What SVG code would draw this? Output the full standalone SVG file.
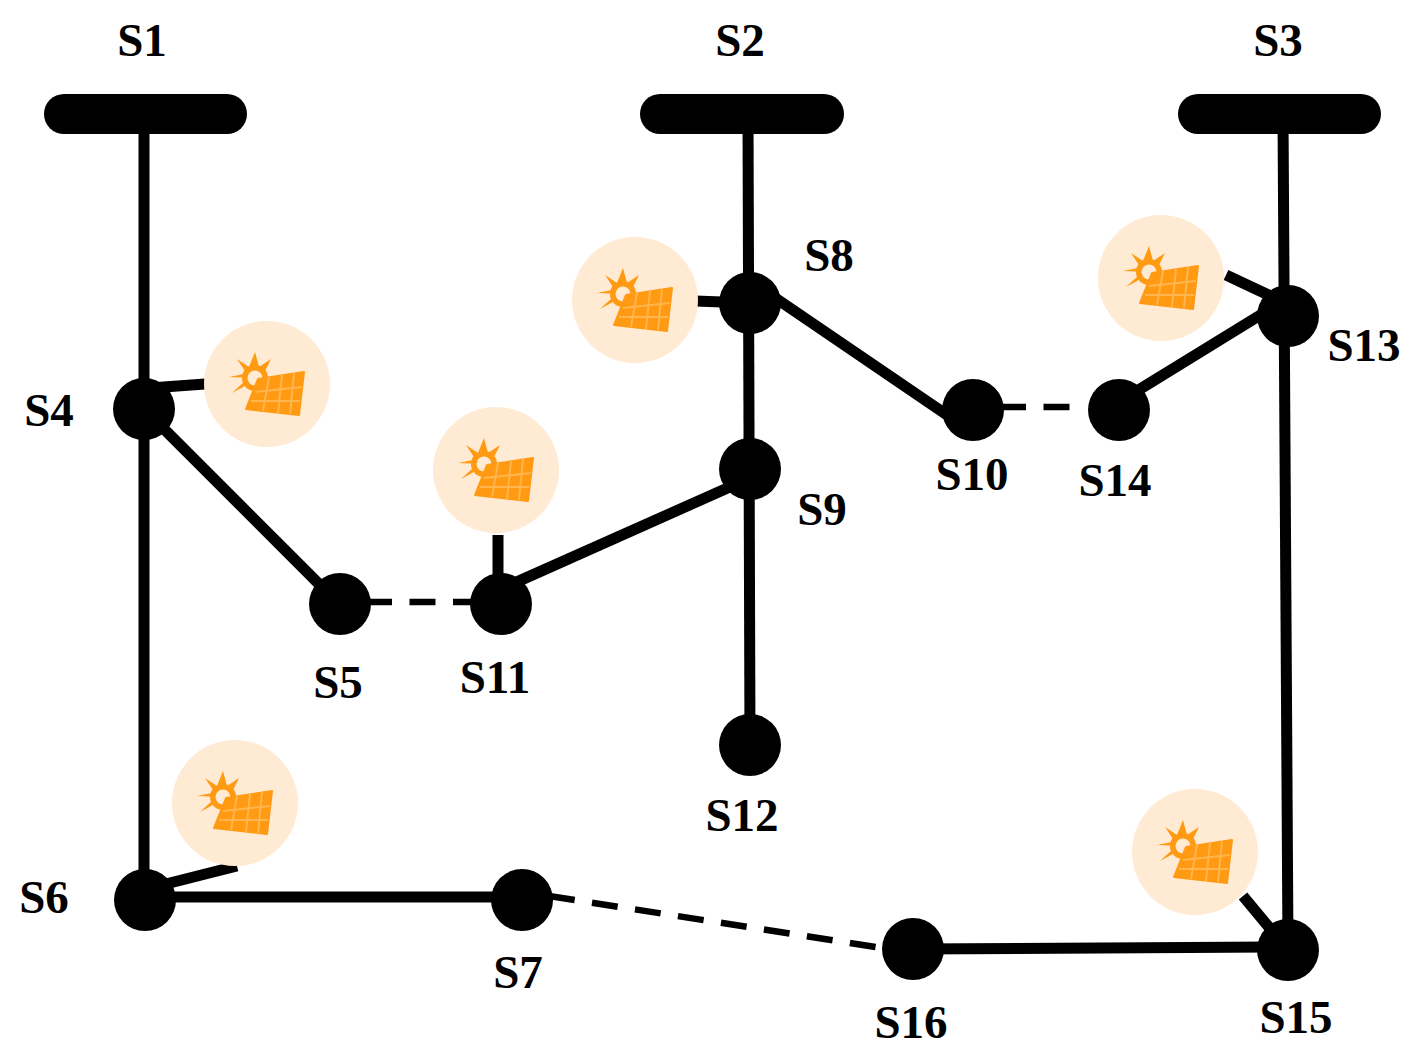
<svg xmlns="http://www.w3.org/2000/svg" width="1422" height="1055" viewBox="0 0 1422 1055">
<style>
.l{stroke:#000;stroke-width:11;fill:none}
.d{stroke:#000;stroke-width:6.5;fill:none;stroke-dasharray:26 17.5}
.n{fill:#000}
.t{font:bold 47px "Liberation Serif",serif;fill:#000;text-anchor:middle}
.h{fill:#ffead3}
.p{fill:#ff9a12;stroke:#ff9a12;stroke-width:2;stroke-linejoin:round}
.g{stroke:#ffb64f;stroke-width:2;fill:none}
.s{fill:#ff9a12}
.c{fill:#ffead3}
</style>
<defs>
<g id="pv">
<circle class="h" r="63"/>
<path class="s" d="M-12 -32L-8 -17L4 -25L-2 -13L-12 -6L-22 -13L-30 -25L-18 -17ZM-38 -7L-23 -10L-23 -2L-35 9L-24 3L-12 -6Z"/>
<circle class="s" cx="-12" cy="-6" r="13"/>
<circle class="c" cx="-12" cy="-6" r="7.5"/>
<path class="p" d="M-9 -5L37 -12L32 31L-21 25Z"/>
<path class="g" d="M-12 8L35 3M-16 17L33 17M2 -7L-4 27M15 -9L11 29M27 -11L23 30"/>
</g>
</defs>
<g id="connectors">
<line class="l" x1="144" y1="115" x2="144" y2="900"/>
<line class="l" x1="748" y1="115" x2="750" y2="745"/>
<line class="l" x1="1283" y1="115" x2="1288" y2="950"/>
<line class="l" x1="150" y1="388" x2="205" y2="384"/>
<line class="l" x1="144" y1="409" x2="340" y2="605"/>
<line class="l" x1="498" y1="535" x2="498" y2="604"/>
<line class="l" x1="501" y1="589" x2="750" y2="478"/>
<line class="l" x1="695" y1="301" x2="750" y2="303"/>
<line class="l" x1="765" y1="291" x2="950" y2="417"/>
<line class="l" x1="1119" y1="402" x2="1275" y2="306"/>
<line class="l" x1="1226" y1="275" x2="1275" y2="298"/>
<line class="l" x1="150" y1="888" x2="237" y2="866"/>
<line class="l" x1="145" y1="897" x2="522" y2="897"/>
<line class="l" x1="913" y1="949" x2="1288" y2="947"/>
<line class="l" x1="1243" y1="896" x2="1288" y2="950"/>
<line class="d" x1="366" y1="602" x2="480" y2="602"/>
<line class="d" x1="1000" y1="407" x2="1070" y2="407"/>
<line class="d" x1="549" y1="896" x2="876" y2="947"/>
</g>
<g id="S1"><rect class="n" x="44" y="94" width="203" height="40" rx="20"/><text class="t" x="142" y="56">S1</text></g>
<g id="S2"><rect class="n" x="640" y="94" width="204" height="40" rx="20"/><text class="t" x="740" y="56">S2</text></g>
<g id="S3"><rect class="n" x="1178" y="94" width="203" height="40" rx="20"/><text class="t" x="1278" y="56">S3</text></g>
<g id="S4"><use href="#pv" x="267" y="384"/><circle class="n" cx="144" cy="409" r="31"/><text class="t" x="49" y="426">S4</text></g>
<g id="S5"><circle class="n" cx="340" cy="604" r="31"/><text class="t" x="338" y="698">S5</text></g>
<g id="S6"><use href="#pv" x="235" y="803"/><circle class="n" cx="145" cy="900" r="31"/><text class="t" x="44" y="913">S6</text></g>
<g id="S7"><circle class="n" cx="522" cy="900" r="31"/><text class="t" x="518" y="988">S7</text></g>
<g id="S8"><use href="#pv" x="635" y="300"/><circle class="n" cx="750" cy="303" r="31"/><text class="t" x="829" y="271">S8</text></g>
<g id="S9"><circle class="n" cx="750" cy="469" r="31"/><text class="t" x="822" y="525">S9</text></g>
<g id="S10"><circle class="n" cx="973" cy="410" r="31"/><text class="t" x="972" y="490">S10</text></g>
<g id="S11"><use href="#pv" x="496" y="470"/><circle class="n" cx="501" cy="604" r="31"/><text class="t" x="495" y="693">S11</text></g>
<g id="S12"><circle class="n" cx="750" cy="745" r="31"/><text class="t" x="742" y="831">S12</text></g>
<g id="S13"><use href="#pv" x="1161" y="278"/><circle class="n" cx="1288" cy="316" r="31"/><text class="t" x="1364" y="361">S13</text></g>
<g id="S14"><circle class="n" cx="1119" cy="410" r="31"/><text class="t" x="1115" y="496">S14</text></g>
<g id="S15"><use href="#pv" x="1195" y="852"/><circle class="n" cx="1288" cy="950" r="31"/><text class="t" x="1296" y="1033">S15</text></g>
<g id="S16"><circle class="n" cx="913" cy="949" r="31"/><text class="t" x="911" y="1038">S16</text></g>
</svg>
